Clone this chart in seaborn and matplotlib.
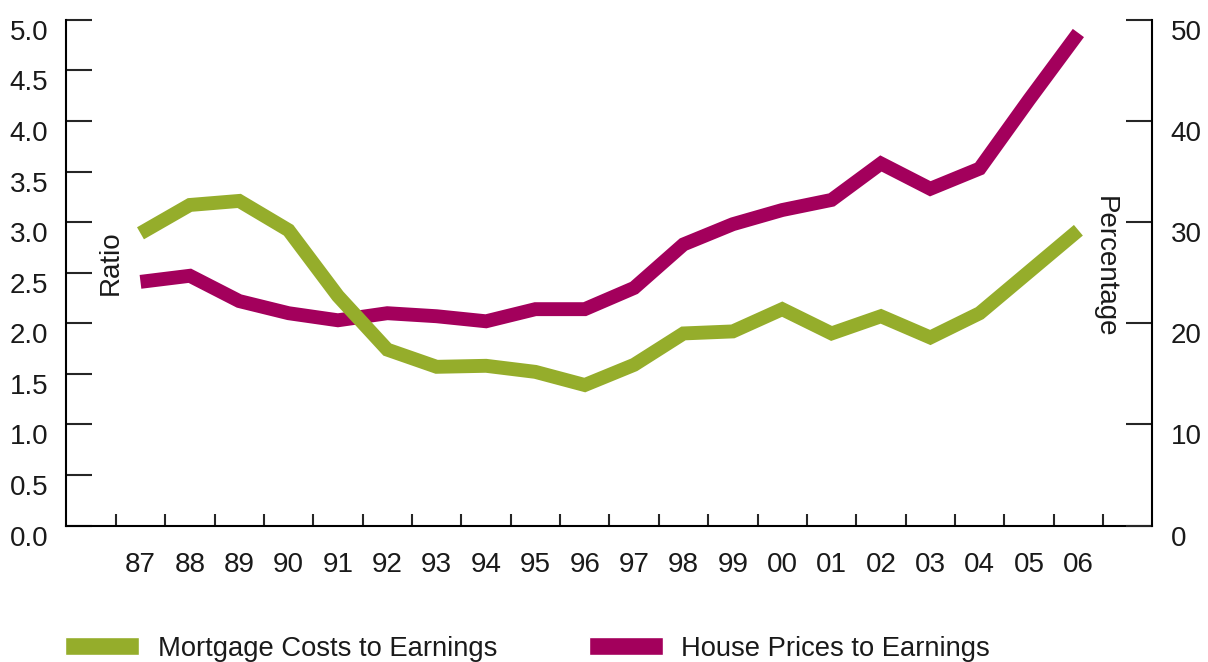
import numpy as np
import pandas as pd
import seaborn as sns
import matplotlib.pyplot as plt
from matplotlib.patches import Patch
from matplotlib.ticker import FixedLocator

# datos
years = ['87', '88', '89', '90', '91', '92', '93', '94', '95', '96',
         '97', '98', '99', '00', '01', '02', '03', '04', '05', '06']
# porcentaje (eje derecho)
mortgage_costs = [28.9, 31.7, 32.1, 29.2, 22.7, 17.4, 15.7, 15.8, 15.2, 13.9,
                  15.9, 19.0, 19.2, 21.4, 19.0, 20.7, 18.6, 21.0, 25.1, 29.2]
# ratio (eje izquierdo)
house_prices = [2.41, 2.47, 2.22, 2.10, 2.03, 2.10, 2.07, 2.02, 2.14, 2.14,
                2.35, 2.78, 2.98, 3.12, 3.22, 3.58, 3.33, 3.53, 4.21, 4.87]

green = '#95AD2B'
magenta = '#A3005C'
txt = '#1a1a1a'

df = pd.DataFrame({'pos': np.arange(len(years)), 'year': years,
                   'mortgage': mortgage_costs, 'house': house_prices})

sns.set_style('white')
plt.rcParams['font.family'] = ['Liberation Sans', 'DejaVu Sans']
fs = 20

fig = plt.figure(figsize=(12.08, 6.62), dpi=100)
ax = fig.add_axes([0.055, 0.206, 0.899, 0.764])
ax2 = ax.twinx()

sns.lineplot(data=df, x='pos', y='house', ax=ax, color=magenta, lw=10,
             solid_capstyle='butt', solid_joinstyle='miter', sort=False)
sns.lineplot(data=df, x='pos', y='mortgage', ax=ax2, color=green, lw=10,
             solid_capstyle='butt', solid_joinstyle='miter', sort=False)

ax.set_xlim(-1.5, len(years) + 0.5)
ax.set_ylim(0, 5)
ax2.set_ylim(0, 50)

# ejes
for a in (ax, ax2):
    a.set_xlabel('')
    a.set_ylabel('')
    a.spines['top'].set_visible(False)
    for s in ('left', 'right', 'bottom'):
        a.spines[s].set_linewidth(1.5)
        a.spines[s].set_color('black')
ax.spines['right'].set_visible(False)
ax2.spines['left'].set_visible(False)
ax2.spines['bottom'].set_visible(False)

ax.set_yticks(np.arange(0, 5.01, 0.5))
ax.set_yticklabels([f'{v:.1f}' for v in np.arange(0, 5.01, 0.5)])
ax.tick_params(axis='y', direction='in', length=19, width=1.5, pad=13,
               labelsize=fs, labelcolor=txt, left=True)
ax2.set_yticks(np.arange(0, 51, 10))
ax2.tick_params(axis='y', direction='in', length=19, width=1.5, pad=13,
                labelsize=fs, labelcolor=txt, right=True)

ax.set_xticks(np.arange(len(years)))
ax.set_xticklabels(years)
ax.tick_params(axis='x', which='major', length=0, pad=19, labelsize=fs,
               labelcolor=txt)
ax.xaxis.set_minor_locator(FixedLocator(np.arange(-0.5, len(years), 1)))
ax.tick_params(axis='x', which='minor', direction='in', length=9, width=1.5,
               bottom=True)

for lab in ax.get_yticklabels() + ax2.get_yticklabels():
    lab.set_verticalalignment('top')

ax.text(0.041, 0.52, 'Ratio', rotation=90, transform=ax.transAxes,
        ha='center', va='center', fontsize=fs, color=txt)
ax.text(0.956, 0.512, 'Percentage', rotation=-90, transform=ax.transAxes,
        ha='center', va='center', fontsize=fs, color=txt)

handles = [Patch(facecolor=green, label='Mortgage Costs to Earnings'),
           Patch(facecolor=magenta, label='House Prices to Earnings')]
fig.legend(handles=handles, loc='center left',
           bbox_to_anchor=(0.054, 0.02), ncol=2, frameon=False,
           fontsize=19.7, handlelength=2.7, handleheight=0.62,
           handletextpad=0.68, columnspacing=3.35, borderpad=0,
           borderaxespad=0, labelcolor=txt)

fig.savefig('out.png', dpi=100)
